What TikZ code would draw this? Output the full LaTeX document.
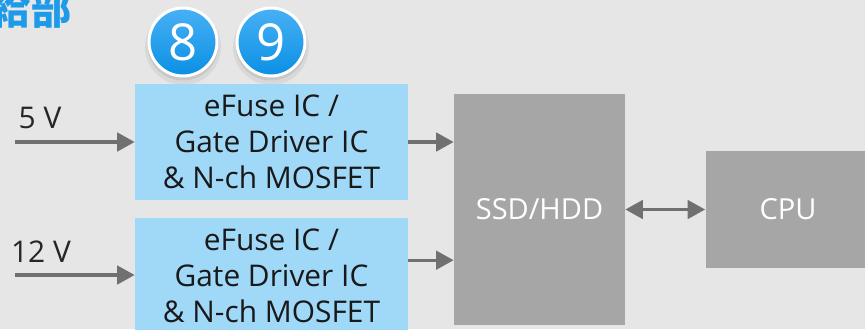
\documentclass[tikz,border=0pt]{standalone}
\usepackage{fontspec}
\setmainfont{Open Sans}
\newfontfamily\jpfont{Noto Sans CJK JP}
\usetikzlibrary{arrows.meta}

\definecolor{bgGrey}{HTML}{E6E6E6}
\definecolor{fuseBlue}{HTML}{A0D8F8}
\definecolor{hostGrey}{HTML}{A6A6A6}
\definecolor{wireGrey}{HTML}{707070}
\definecolor{titleBlue}{HTML}{1E9BE8}
\definecolor{badgeTop}{HTML}{48B0F5}
\definecolor{badgeBot}{HTML}{0A90E4}

\tikzset{
    fusebox/.style={fill=fuseBlue, minimum width=5.46cm, minimum height=2.32cm, align=center, font=\fontsize{17}{20.4}\selectfont, text=black!90},
    hostbox/.style={fill=hostGrey, text=white, font=\fontsize{16.5}{20}\selectfont},
    badge/.style={circle, draw=white, line width=1.7pt, top color=badgeTop, bottom color=badgeBot, minimum size=1.36cm, inner sep=0pt, text=white, font=\fontsize{29}{30}\selectfont},
    tip/.tip={Triangle[length=10pt,width=10.5pt]},
    wire/.style={wireGrey, line width=1.9pt, -tip},
    volt/.style={text=black!85, font=\fontsize{17}{20}\selectfont}
}

\begin{document}
\begin{tikzpicture}[x=0.02cm, y=-0.02cm]
    \useasboundingbox (0,0) rectangle (865,329);
    \fill[bgGrey] (0,0) rectangle (865,329); % background

    \coordinate (in5) at (15,142);
    \coordinate (in12) at (15,275);

    \node[anchor=east, text=titleBlue, font=\jpfont\bfseries\fontsize{23}{24}\selectfont] (title) at (78,9) {供給部};

    % shadows under the badges
    \foreach \cx in {183,271} {
        \fill[black, opacity=0.06] (\cx,47) circle (0.76cm);
        \fill[black, opacity=0.08] (\cx,45) circle (0.71cm);
    }
    \node[badge] (badge8) at (183,42) {8};
    \node[badge] (badge9) at (271,42) {9};

    \node[fusebox] (fuse5) at (271.5,142) {eFuse IC /\\Gate Driver IC\\\& N-ch MOSFET};
    \node[fusebox] (fuse12) at (271.5,276) {eFuse IC /\\Gate Driver IC\\\& N-ch MOSFET};
    \node[hostbox, minimum width=3.42cm, minimum height=4.62cm] (ssd) at (539.5,209.5) {SSD/HDD};
    \node[hostbox, minimum width=3.3cm, minimum height=2.34cm] (cpu) at (788,209.5) {CPU};

    \node[volt] (v5) at (40,118) {5 V};
    \node[volt] (v12) at (41,252) {12 V};

    \draw[wire] (in5) -- (fuse5);
    \draw[wire] (in12) -- (fuse12.west |- in12);
    \coordinate (out12) at ([yshift=9pt]fuse12.east);
    \draw[wire] (fuse5) -- (ssd.west |- fuse5);
    \draw[wire] (out12) -- (ssd.west |- out12);
    \draw[wire, tip-tip] (ssd) -- (cpu);
\end{tikzpicture}
\end{document}
